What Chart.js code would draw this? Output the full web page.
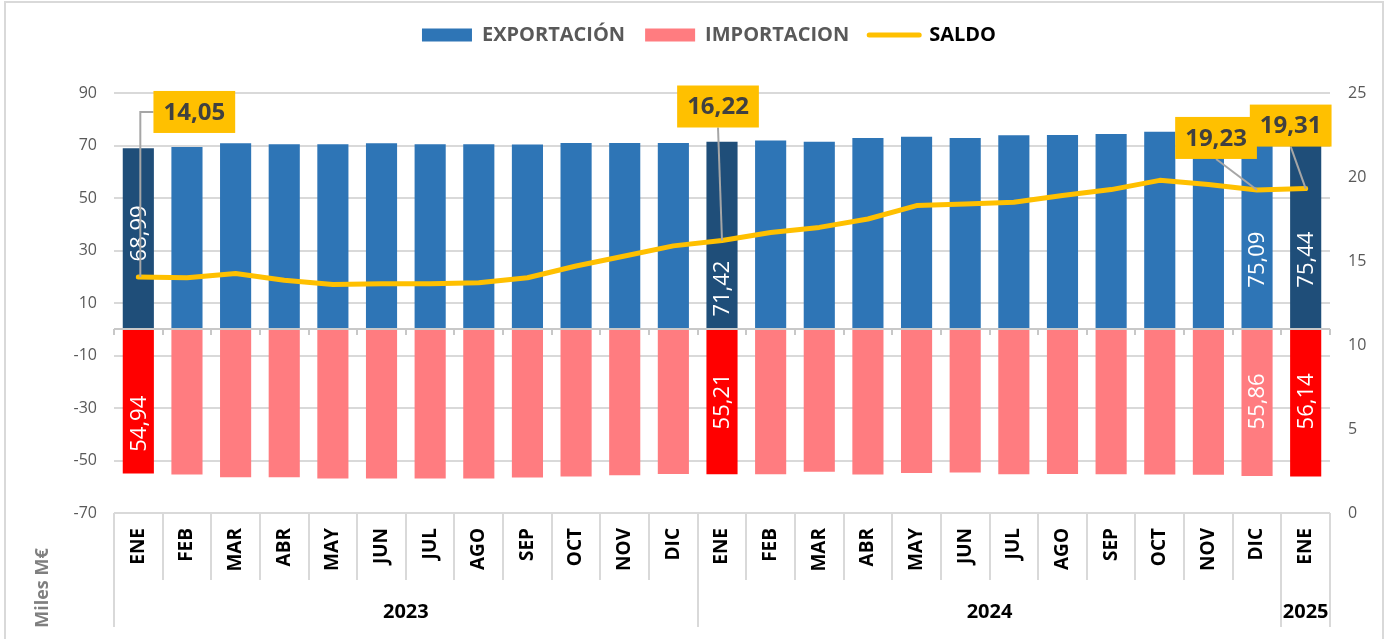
<!DOCTYPE html>
<html>
<head>
<meta charset="utf-8">
<script src="https://cdn.jsdelivr.net/npm/chart.js@4.4.1/dist/chart.umd.min.js"></script>
<style>
	html, body { margin:0; padding:0; background:#fff; }
	#wrap { position:relative; width:1392px; height:639px; }
</style>
</head>
<body>
<div id="wrap"><canvas id="chart" width="1392" height="639"></canvas></div>
<script>
var months = ['ENE','FEB','MAR','ABR','MAY','JUN','JUL','AGO','SEP','OCT','NOV','DIC',
              'ENE','FEB','MAR','ABR','MAY','JUN','JUL','AGO','SEP','OCT','NOV','DIC',
              'ENE'];
var years     = ['2023', '2024', '2025'];
var yearSizes = [12, 12, 1];

// miles de millones de euros
var exportacion = [68.99, 69.4, 70.9, 70.5, 70.5, 70.9, 70.5, 70.5, 70.4, 71.0, 71.0, 71.0,
                   71.42, 71.9, 71.4, 72.9, 73.3, 72.9, 73.9, 74.0, 74.4, 75.2, 75.0, 75.09,
                   75.44];
var importacion = [54.94, 55.3, 56.4, 56.4, 56.9, 56.9, 56.9, 56.9, 56.5, 56.1, 55.6, 55.1,
                   55.21, 55.2, 54.3, 55.3, 54.8, 54.6, 55.2, 55.1, 55.2, 55.3, 55.4, 55.86,
                   56.14];
var saldo       = [14.05, 14.0, 14.25, 13.85, 13.6, 13.65, 13.65, 13.7, 14.0, 14.7, 15.3, 15.9,
                   16.22, 16.7, 17.0, 17.5, 18.3, 18.4, 18.5, 18.9, 19.25, 19.8, 19.55, 19.23,
                   19.31];

var leftTicks  = [-70, -50, -30, -10, 10, 30, 50, 70, 90];
var rightTicks = [0, 5, 10, 15, 20, 25];

var FONT = "'Open Sans', 'DejaVu Sans', sans-serif";
var col = {
	exp : '#2E75B6', expDark : '#1F4E79',
	imp : '#FF7C80', impDark : '#FF0000',
	saldo : '#FFC000', grid : '#D9D9D9', axis : '#595959'
};

function fmt(v){ return v.toFixed(2).replace('.', ','); }
function isEne(i){ return months[i] === 'ENE'; }

// etiquetas dentro de las barras (valor donde se centra el texto)
var barLabels = {
	exp : { 0: 36.5, 12: 15.5, 23: 26.5, 24: 26.5 },
	imp : { 0: -36, 12: -27.5, 23: -27.5, 24: -27.5 }
};
// recuadros amarillos del saldo: desplazamiento del centro respecto al punto
var callouts = [
	{ i: 0,  dx: 56,  dy: -165, elbow: true },
	{ i: 12, dx: -4,  dy: -134 },
	{ i: 23, dx: -41, dy: -52 },
	{ i: 24, dx: -15, dy: -63 }
];

var extras = {
	id : 'extras',
	beforeInit : function(chart){
		var fit = chart.legend.fit;
		chart.legend.fit = function(){
			fit.call(chart.legend);
			this.height += 38;
		};
	},
	afterDatasetsDraw : function(chart){
		var ctx = chart.ctx,
			area = chart.chartArea,
			x = chart.scales.x,
			y = chart.scales.y,
			y1 = chart.scales.y1,
			step = (area.right - area.left) / months.length,
			y0 = Math.round(y.getPixelForValue(0)),
			i, k;

		ctx.save();

		// eje horizontal en cero con marcas
		ctx.strokeStyle = '#C8C8C8';
		ctx.lineWidth = 2;
		ctx.beginPath();
		ctx.moveTo(area.left, y0); ctx.lineTo(area.right, y0);
		for(k=0; k<=months.length; k++){
			var bx = Math.round(area.left + step*k);
			ctx.moveTo(bx, y0); ctx.lineTo(bx, y0 + 6);
		}
		ctx.stroke();

		// valores dentro de las barras
		ctx.fillStyle = '#FFFFFF';
		ctx.font = '22px ' + FONT;
		ctx.textAlign = 'center';
		ctx.textBaseline = 'middle';
		function vText(txt, px, py){
			ctx.save();
			ctx.translate(px, py);
			ctx.rotate(-Math.PI/2);
			ctx.fillText(txt, 0, 1);
			ctx.restore();
		}
		for(i in barLabels.exp){
			vText(fmt(exportacion[i]), x.getPixelForValue(+i), y.getPixelForValue(barLabels.exp[i]));
		}
		for(i in barLabels.imp){
			vText(fmt(importacion[i]), x.getPixelForValue(+i), y.getPixelForValue(barLabels.imp[i]));
		}

		// recuadros del saldo
		ctx.font = 'bold 24px ' + FONT;
		callouts.forEach(function(c){
			var px = x.getPixelForValue(c.i),
				py = y1.getPixelForValue(saldo[c.i]),
				txt = fmt(saldo[c.i]),
				w = ctx.measureText(txt).width + 20,
				h = 42,
				cx = px + c.dx,
				cy = py + c.dy;

			ctx.strokeStyle = '#A6A6A6';
			ctx.lineWidth = 2;
			ctx.beginPath();
			if(c.elbow){
				ctx.moveTo(px + 2, py);
				ctx.lineTo(px + 2, cy);
				ctx.lineTo(cx - w/2, cy);
			} else {
				ctx.moveTo(px, py);
				ctx.lineTo(cx, cy + h/2);
			}
			ctx.stroke();

			ctx.fillStyle = col.saldo;
			ctx.fillRect(cx - w/2, cy - h/2, w, h);
			ctx.fillStyle = '#404040';
			ctx.fillText(txt, cx, cy + 1);
		});

		ctx.restore();
	},
	afterDraw : function(chart){
		var ctx = chart.ctx,
			area = chart.chartArea,
			step = (area.right - area.left) / months.length,
			bottom = area.bottom,
			k, n = 0, g;

		ctx.save();
		ctx.strokeStyle = col.grid;
		ctx.lineWidth = 2;

		// cuadricula de las etiquetas de meses y años
		var yearEdges = [0];
		for(g=0; g<yearSizes.length; g++){ n += yearSizes[g]; yearEdges.push(n); }
		ctx.beginPath();
		for(k=0; k<=months.length; k++){
			var bx = Math.round(area.left + step*k);
			ctx.moveTo(bx, bottom);
			ctx.lineTo(bx, yearEdges.indexOf(k) >= 0 ? bottom + 114 : bottom + 67);
		}
		ctx.stroke();

		ctx.fillStyle = '#000';
		ctx.font = 'bold 20px ' + FONT;
		ctx.textAlign = 'center';
		ctx.textBaseline = 'middle';
		for(g=0; g<years.length; g++){
			var mid = area.left + step*(yearEdges[g] + yearEdges[g+1])/2;
			ctx.fillText(years[g], mid, bottom + 99);
		}

		// unidad
		ctx.save();
		ctx.translate(43, 588);
		ctx.rotate(-Math.PI/2);
		ctx.fillStyle = '#7F7F7F';
		ctx.font = 'bold 18px ' + FONT;
		ctx.fillText('Miles M€', 0, 0);
		ctx.restore();

		// marco
		ctx.strokeStyle = col.grid;
		ctx.lineWidth = 2;
		ctx.strokeRect(5, 2, 1378, 680);
		ctx.restore();
	}
};

new Chart(document.getElementById('chart'), {
	data : {
		labels : months,
		datasets : [
			{
				type : 'bar', label : 'EXPORTACIÓN',
				data : exportacion,
				backgroundColor : exportacion.map(function(v, i){ return isEne(i) ? col.expDark : col.exp; }),
				legendColor : col.exp,
				yAxisID : 'y', order : 2
			},
			{
				type : 'bar', label : 'IMPORTACION',
				data : importacion.map(function(v){ return -v; }),
				backgroundColor : importacion.map(function(v, i){ return isEne(i) ? col.impDark : col.imp; }),
				legendColor : col.imp,
				yAxisID : 'y', order : 2
			},
			{
				type : 'line', label : 'SALDO',
				data : saldo,
				borderColor : col.saldo,
				backgroundColor : col.saldo,
				borderWidth : 5,
				pointRadius : 0,
				tension : 0,
				borderCapStyle : 'round',
				borderJoinStyle : 'round',
				yAxisID : 'y1', order : 0
			}
		]
	},
	options : {
		responsive : false,
		animation : false,
		devicePixelRatio : 1,
		layout : { padding : { top : 5, left : 26, right : 0, bottom : 0 } },
		datasets : { bar : { barPercentage : 0.64, categoryPercentage : 1 } },
		plugins : {
			tooltip : { enabled : false },
			legend : {
				position : 'top',
				labels : {
					usePointStyle : true,
					pointStyleWidth : 50,
					boxHeight : 13,
					padding : 20,
					font : { family : FONT, size : 20, weight : 'bold' },
					generateLabels : function(chart){
						return chart.data.datasets.map(function(ds, i){
							var isLine = ds.type === 'line',
								c = isLine ? ds.borderColor : ds.legendColor;
							return {
								text : ds.label, datasetIndex : i,
								fillStyle : c, strokeStyle : c,
								lineWidth : isLine ? 5 : 0, lineCap : 'round',
								pointStyle : isLine ? 'line' : 'rect',
								fontColor : isLine ? '#000000' : col.axis,
								hidden : false
							};
						});
					}
				}
			}
		},
		scales : {
			x : {
				stacked : true,
				offset : true,
				grid : { display : false, drawTicks : false },
				border : { display : false },
				ticks : {
					autoSkip : false, minRotation : 90, maxRotation : 90, padding : 15,
					color : '#000', font : { family : FONT, size : 19, weight : 'bold' }
				},
				afterFit : function(s){ s.height = 126; }
			},
			y : {
				stacked : true,
				position : 'left',
				min : -70, max : 90,
				afterBuildTicks : function(s){ s.ticks = leftTicks.map(function(v){ return { value : v }; }); },
				grid : { color : col.grid, lineWidth : 2, drawTicks : false },
				border : { display : false },
				ticks : { padding : 17, color : col.axis, font : { family : FONT, size : 16 } },
				afterFit : function(s){ s.width = 88; }
			},
			y1 : {
				position : 'right',
				min : 0, max : 25,
				afterBuildTicks : function(s){ s.ticks = rightTicks.map(function(v){ return { value : v }; }); },
				grid : { display : false, drawTicks : false },
				border : { display : false },
				ticks : { padding : 18, color : col.axis, font : { family : FONT, size : 16 } },
				afterFit : function(s){ s.width = 62; }
			}
		}
	},
	plugins : [extras]
});
</script>
</body>
</html>
